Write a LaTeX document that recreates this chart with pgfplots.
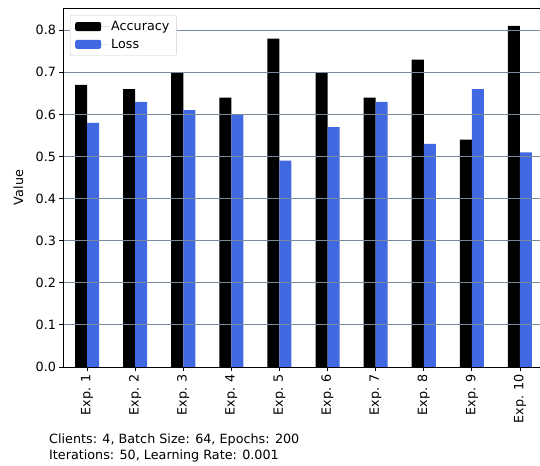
\documentclass[border=0pt]{standalone}
\usepackage{pgfplots}
\pgfplotsset{compat=1.18}
\usepackage{fontspec}
\setmainfont{DejaVu Sans}
\definecolor{royal}{HTML}{4169E1}
\definecolor{gridc}{HTML}{7A8A9A}
\begin{document}
\begin{tikzpicture}
\begin{axis}[
  at={(0,0)}, anchor=south west,
  scale only axis,
  width=481bp, height=359bp,
  xmin=-0.5, xmax=9.5,
  ymin=0, ymax=0.8527,
  ybar=0pt, bar width=0.25,
  xtick={0,1,2,3,4,5,6,7,8,9},
  xticklabels={Exp. 1,Exp. 2,Exp. 3,Exp. 4,Exp. 5,Exp. 6,Exp. 7,Exp. 8,Exp. 9,Exp. 10},
  xticklabel style={rotate=90, anchor=east, font=\fontsize{12.8}{15}\selectfont},
  ytick={0,0.1,0.2,0.3,0.4,0.5,0.6,0.7,0.8},
  yticklabel style={font=\fontsize{12.8}{15}\selectfont, /pgf/number format/.cd, fixed, fixed zerofill, precision=1, assume math mode=true},
  tick align=outside,
  xtick pos=left, ytick pos=left,
  major tick length=3.5bp,
  tick style={black, line width=0.8bp},
  axis line style={black, line width=0.8bp},
  ymajorgrids,
  major grid style={gridc, line width=1bp},
  axis on top,
  ylabel={Value},
  ylabel style={at={(axis description cs:-0.075,0.5)}, anchor=south, font=\fontsize{12.8}{15}\selectfont},
  legend style={at={(0.0146,0.9805)}, anchor=north west, draw=black!20, rounded corners=2bp,
    font=\fontsize{12.8}{15}\selectfont, inner xsep=5bp, inner ysep=4bp, row sep=3bp,
    /tikz/every even column/.append style={column sep=0bp}},
  legend cell align=left,
  legend image code/.code={\fill[#1,draw=none] (0bp,-4.5bp) rectangle (26bp,4.5bp);
    \path (0bp,0bp) -- (34bp,0bp);},
]
\addplot[fill=black, draw=none] coordinates {
 (0,0.67) (1,0.66) (2,0.70) (3,0.64) (4,0.78) (5,0.70) (6,0.64) (7,0.73) (8,0.54) (9,0.81)};
\addplot[fill=royal, draw=none] coordinates {
 (0,0.58) (1,0.63) (2,0.61) (3,0.60) (4,0.49) (5,0.57) (6,0.63) (7,0.53) (8,0.66) (9,0.51)};
\legend{Accuracy,Loss}
\end{axis}
\node[anchor=north west, align=left, inner sep=0pt, font=\fontsize{12.8}{15.5}\selectfont] at (-14bp,-67bp)
 {Clients: 4, Batch Size: 64, Epochs: 200\\Iterations: 50, Learning Rate: 0.001};
\pgfresetboundingbox
\useasboundingbox (-63bp,-99bp) rectangle (477bp,367bp);
\end{tikzpicture}
\end{document}
